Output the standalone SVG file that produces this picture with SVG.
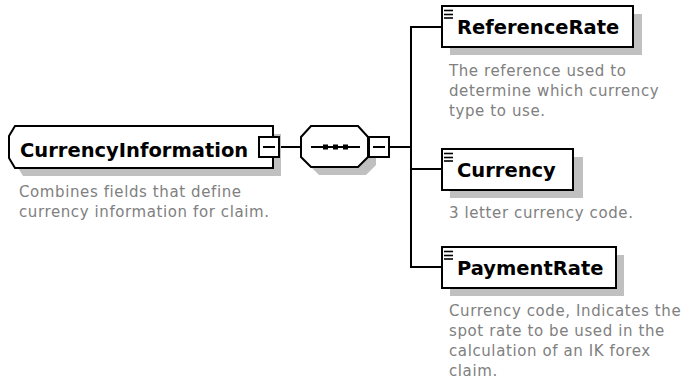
<svg xmlns="http://www.w3.org/2000/svg" width="689" height="388" viewBox="0 0 689 388">
  <style>
    .box { fill: #fff; stroke: #000; stroke-width: 2; }
    .shadow { fill: #c0c0c0; stroke: none; }
    .wire { fill: none; stroke: #000; stroke-width: 2; }
    .icon { stroke: #000; stroke-width: 1.6; }
    .name { font-family: "DejaVu Sans", Verdana, sans-serif; font-weight: bold; font-size: 19.5px; fill: #000; }
    .doc { font-family: "DejaVu Sans", Verdana, sans-serif; font-size: 15px; letter-spacing: 0.6px; fill: #808080; }
  </style>
  <defs>
    <!-- "simple content" marker drawn in the top-left corner of each leaf element -->
    <g id="leafIcon">
      <line class="icon" x1="2" y1="4.5" x2="11" y2="4.5"/>
      <line class="icon" x1="2" y1="8.5" x2="11" y2="8.5"/>
      <line class="icon" x1="2" y1="12" x2="11" y2="12"/>
    </g>
  </defs>

  <!-- connectors -->
  <g id="connectors">
    <line class="wire" x1="279" y1="147" x2="301" y2="147"/>
    <line class="wire" x1="389" y1="147" x2="411" y2="147"/>
    <line class="wire" x1="411" y1="26" x2="411" y2="268"/>
    <line class="wire" x1="411" y1="27" x2="442" y2="27"/>
    <line class="wire" x1="411" y1="169" x2="442" y2="169"/>
    <line class="wire" x1="411" y1="267" x2="442" y2="267"/>
  </g>

  <!-- root element -->
  <g id="CurrencyInformation">
    <path class="shadow" d="M23,134 H281 V176 H23 L17,166 V144 Z"/>
    <path class="box" d="M15,126 H273 V168 H15 L9,158 V136 Z"/>
    <text class="name" x="20" y="156.5">CurrencyInformation</text>
    <rect class="box" x="259" y="137" width="20" height="20"/>
    <line class="wire" x1="263" y1="147" x2="275" y2="147"/>
    <text class="doc" x="19" y="197">Combines fields that define</text>
    <text class="doc" x="19" y="217">currency information for claim.</text>
  </g>

  <!-- sequence compositor -->
  <g id="sequence">
    <path class="shadow" d="M309,145 L319,134 H366 L376,145 V165 L366,175 H319 L309,165 Z"/>
    <path class="box" d="M301,137 L311,126 H358 L368,137 V157 L358,167 H311 L301,157 Z"/>
    <line class="wire" x1="311" y1="147" x2="360" y2="147"/>
    <rect x="323" y="144.5" width="5" height="5" fill="#000"/>
    <rect x="333" y="144.5" width="5" height="5" fill="#000"/>
    <rect x="343" y="144.5" width="5" height="5" fill="#000"/>
    <rect class="box" x="369" y="137" width="20" height="20"/>
    <line class="wire" x1="373" y1="147" x2="385" y2="147"/>
  </g>

  <!-- child elements -->
  <g id="ReferenceRate">
    <rect class="shadow" x="450" y="14" width="192" height="41"/>
    <rect class="box" x="442" y="6" width="191" height="41"/>
    <use href="#leafIcon" x="442" y="6"/>
    <text class="name" x="457" y="33.5">ReferenceRate</text>
    <text class="doc" x="449" y="76">The reference used to</text>
    <text class="doc" x="449" y="96">determine which currency</text>
    <text class="doc" x="449" y="116">type to use.</text>
  </g>

  <g id="Currency">
    <rect class="shadow" x="450" y="157" width="133" height="41"/>
    <rect class="box" x="442" y="149" width="131" height="41"/>
    <use href="#leafIcon" x="442" y="149"/>
    <text class="name" x="457" y="176.5">Currency</text>
    <text class="doc" x="449" y="218">3 letter currency code.</text>
  </g>

  <g id="PaymentRate">
    <rect class="shadow" x="450" y="255" width="174" height="41"/>
    <rect class="box" x="442" y="247" width="174" height="41"/>
    <use href="#leafIcon" x="442" y="247"/>
    <text class="name" x="457" y="274.5">PaymentRate</text>
    <text class="doc" x="449" y="316">Currency code, Indicates the</text>
    <text class="doc" x="449" y="336">spot rate to be used in the</text>
    <text class="doc" x="449" y="356">calculation of an IK forex</text>
    <text class="doc" x="449" y="376">claim.</text>
  </g>
</svg>
